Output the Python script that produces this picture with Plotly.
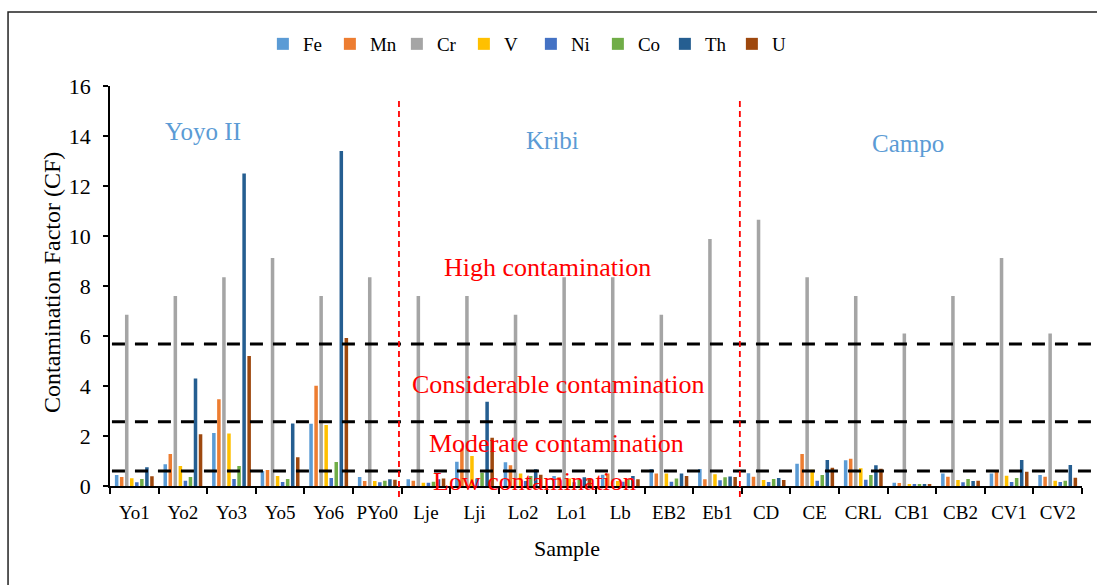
import plotly.graph_objects as go

# Contamination factor (CF) per element at each sampling site
samples = ["Yo1", "Yo2", "Yo3", "Yo5", "Yo6", "PYo0", "Lje", "Lji", "Lo2", "Lo1",
           "Lb", "EB2", "Eb1", "CD", "CE", "CRL", "CB1", "CB2", "CV1", "CV2"]

fe = [0.44, 0.87, 2.12, 0.60, 2.49, 0.36, 0.27, 0.97, 0.95, 0.40,
      0.45, 0.68, 0.68, 0.51, 0.89, 1.03, 0.13, 0.50, 0.50, 0.44]
mn = [0.36, 1.28, 3.47, 0.64, 4.01, 0.20, 0.21, 1.50, 0.83, 0.35,
      0.50, 0.50, 0.27, 0.37, 1.28, 1.09, 0.12, 0.37, 0.60, 0.37]
cr = [6.85, 7.60, 8.35, 9.12, 7.60, 8.35, 7.60, 7.60, 6.85, 8.35,
      8.35, 6.85, 9.88, 10.65, 8.35, 7.60, 6.10, 7.60, 9.12, 6.10]
v = [0.31, 0.80, 2.10, 0.40, 2.44, 0.20, 0.13, 1.20, 0.50, 0.30,
     0.20, 0.50, 0.47, 0.24, 0.65, 0.71, 0.05, 0.24, 0.41, 0.21]
ni = [0.15, 0.21, 0.28, 0.16, 0.32, 0.15, 0.13, 0.30, 0.20, 0.15,
      0.17, 0.17, 0.23, 0.16, 0.21, 0.25, 0.05, 0.15, 0.16, 0.16]
co = [0.28, 0.36, 0.80, 0.28, 0.96, 0.21, 0.17, 0.53, 0.40, 0.25,
      0.27, 0.30, 0.35, 0.28, 0.44, 0.44, 0.05, 0.28, 0.32, 0.21]
th = [0.75, 4.30, 12.50, 2.50, 13.40, 0.27, 0.27, 3.37, 0.67, 0.35,
      0.40, 0.50, 0.38, 0.32, 1.04, 0.83, 0.05, 0.20, 1.04, 0.84]
u = [0.39, 2.07, 5.20, 1.15, 5.92, 0.25, 0.30, 1.93, 0.45, 0.30,
     0.27, 0.40, 0.36, 0.24, 0.73, 0.69, 0.05, 0.21, 0.57, 0.33]

elements = ["Fe", "Mn", "Cr", "V", "Ni", "Co", "Th", "U"]
series = [fe, mn, cr, v, ni, co, th, u]
colors = ["#5B9BD5", "#ED7D31", "#A5A5A5", "#FFC000",
          "#4472C4", "#70AD47", "#255E91", "#9E480E"]

# Class thresholds of contamination (horizontal dashed lines)
thresholds = [5.68, 2.57, 0.60]
class_labels = ["High contamination", "Considerable contamination",
                "Moderate contamination", "Low contamination"]
class_label_y = [8.76, 4.08, 1.72, 0.20]
class_label_x = [0.4506, 0.461, 0.459, 0.437]

# Study areas
areas = ["Yoyo II", "Kribi", "Campo"]
area_x = [0.0957, 0.455, 0.821]
area_y = [14.2, 13.84, 13.72]

SERIF = "Liberation Serif"
Y_MAX = 16

fig = go.Figure()
for name, vals, col in zip(elements, series, colors):
    fig.add_trace(go.Bar(name=name, x=samples, y=vals, marker_color=col,
                         marker_line_width=0))

shapes = []
# outer frame
shapes.append(dict(type="rect", xref="paper", yref="paper",
                   x0=-0.1049, x1=1.3, y0=-0.5, y1=1.185,
                   line=dict(color="#222", width=1.5), layer="below"))
# threshold lines
for t in thresholds:
    shapes.append(dict(type="line", xref="paper", yref="paper",
                       x0=0.002, x1=1.0103, y0=t / Y_MAX, y1=t / Y_MAX,
                       line=dict(color="black", width=3, dash="13px,10px"),
                       layer="above"))
# area separators
for xs in [0.2973, 0.648]:
    shapes.append(dict(type="line", xref="paper", yref="paper",
                       x0=xs, x1=xs, y0=-0.0275, y1=0.9725,
                       line=dict(color="#FF0000", width=1.8, dash="6px,4px"),
                       layer="above"))

annotations = []
for txt, xa, ya in zip(areas, area_x, area_y):
    annotations.append(dict(text=txt, xref="paper", yref="y", x=xa, y=ya,
                            xanchor="center", yanchor="middle",
                            showarrow=False,
                            font=dict(family=SERIF, size=25, color="#5B9BD5")))
for txt, xa, ya in zip(class_labels, class_label_x, class_label_y):
    annotations.append(dict(text=txt, xref="paper", yref="y", x=xa, y=ya,
                            xanchor="center", yanchor="middle",
                            showarrow=False,
                            font=dict(family=SERIF, size=26, color="#FF0000")))
annotations.append(dict(text="Contamination Factor (CF)", xref="paper",
                        yref="paper", x=-0.0597, y=0.51, textangle=-90,
                        xanchor="center", yanchor="middle", showarrow=False,
                        font=dict(family=SERIF, size=24, color="black")))
annotations.append(dict(text="Sample", xref="paper", yref="paper",
                        x=0.470, y=-0.155, xanchor="center", yanchor="middle",
                        showarrow=False,
                        font=dict(family=SERIF, size=22, color="black")))

fig.update_layout(
    width=1097, height=585,
    margin=dict(l=110, r=15, t=86, b=99),
    paper_bgcolor="white", plot_bgcolor="white",
    barmode="group", bargap=0.17, bargroupgap=0.3,
    font=dict(family=SERIF, color="black"),
    legend=dict(orientation="h", x=0.433, y=1.105, xanchor="center",
                yanchor="middle", font=dict(family=SERIF, size=19),
                itemwidth=30, entrywidth=22, entrywidthmode="pixels"),
    shapes=shapes, annotations=annotations,
    xaxis=dict(showline=True, linecolor="black", linewidth=1.5,
               ticks="outside", tickson="boundaries", ticklen=6,
               tickcolor="black", tickwidth=1.5, showgrid=False,
               tickangle=0, ticklabelstandoff=8,
               tickfont=dict(family=SERIF, size=19, color="black")),
    yaxis=dict(range=[0, Y_MAX], dtick=2, showline=True, linecolor="black",
               linewidth=1.5, ticks="outside", ticklen=5, tickcolor="black",
               tickwidth=1.5, showgrid=False, zeroline=False,
               ticklabelstandoff=8,
               tickfont=dict(family=SERIF, size=22, color="black")),
)

fig.write_html("out.html")
